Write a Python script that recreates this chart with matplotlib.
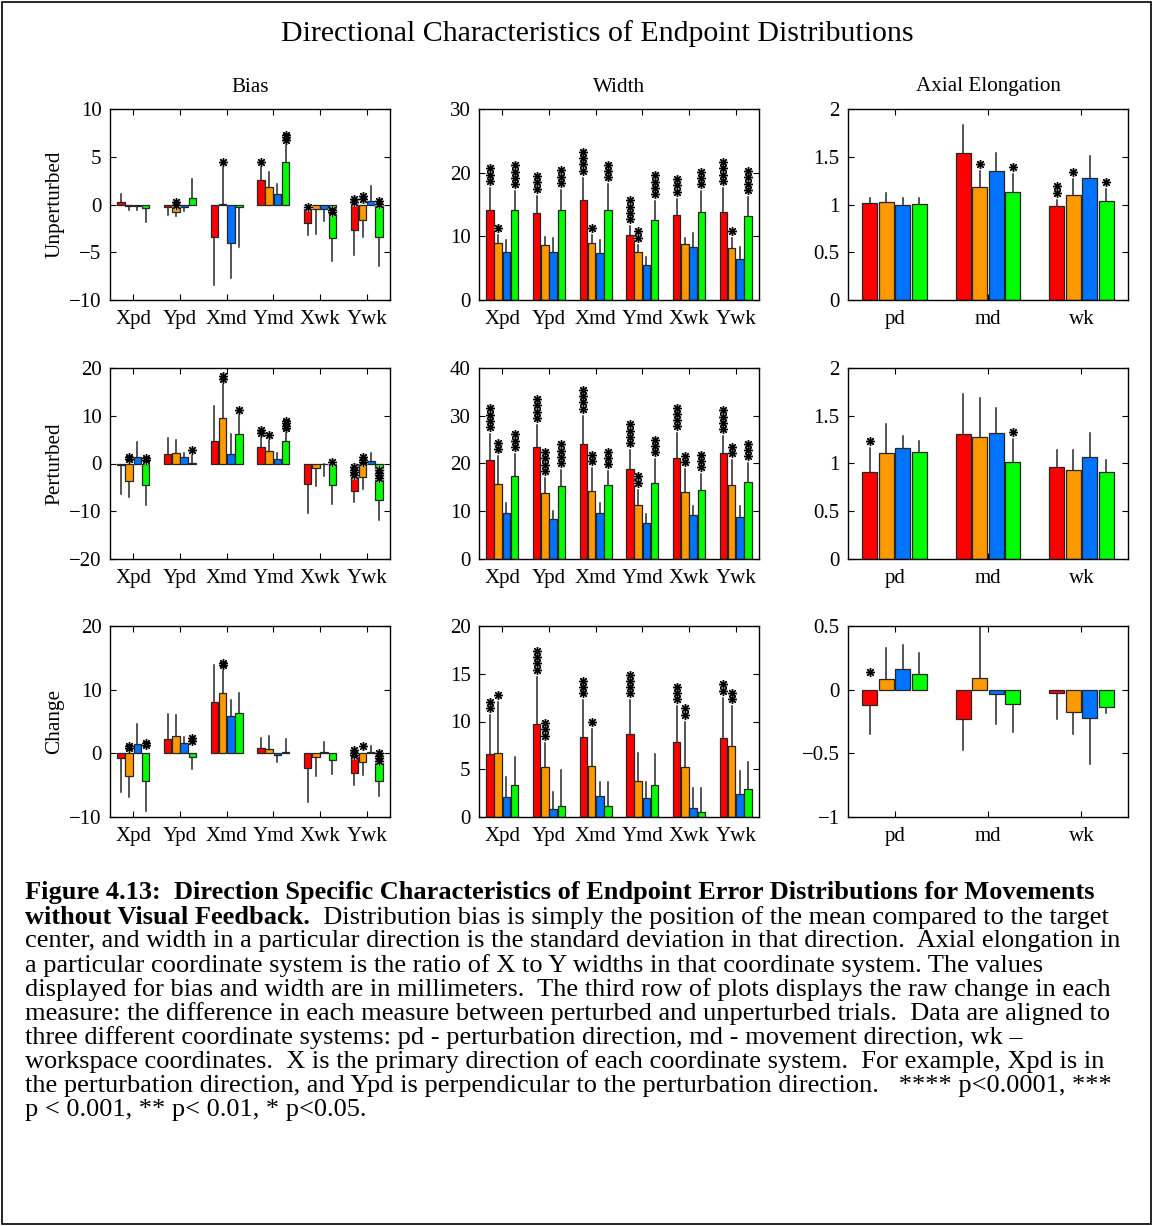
import numpy as np
import matplotlib.pyplot as plt
from matplotlib.patches import Rectangle
from matplotlib.ticker import FuncFormatter

plt.rcParams['font.family'] = ['Liberation Serif', 'DejaVu Serif']

colors = ['#ff0000', '#ff9900', '#0073ff', '#00ff00']
coords = ['Xpd', 'Ypd', 'Xmd', 'Ymd', 'Xwk', 'Ywk']
systems = ['pd', 'md', 'wk']

# each row is one group, columns are red / orange / blue / green
# err = end of the one-sided error line
bias_unp = [[0.25, -0.15, -0.15, -0.4], [-0.3, -0.8, -0.25, 0.7], [-3.4, 0.1, -4.0, -0.3],
            [2.6, 1.8, 1.1, 4.5], [-1.9, -0.5, -0.5, -3.5], [-2.7, -1.6, 0.4, -3.4]]
bias_unp_err = [[1.1, -0.6, -0.6, -1.8], [-1.1, -1.2, -0.7, 2.7], [-8.4, 4.5, -7.7, -4.5],
                [4.5, 3.4, 2.1, 6.7], [-3.2, -3.1, -1.7, -5.9], [-5.3, -3.4, 1.9, -6.4]]
bias_unp_n = [[0, 0, 0, 0], [0, 2, 0, 0], [0, 1, 0, 0], [1, 0, 0, 3], [1, 0, 0, 2], [2, 2, 0, 2]]
bias_unp_sy = [[0, 0, 0, 0], [0, 0.0, 0, 0], [0, 4.5, 0, 0], [4.5, 0, 0, 6.8], [-0.3, 0, 0, -0.8], [0.3, 0.6, 0, 0.1]]

bias_per = [[-0.4, -3.6, 1.4, -4.6], [2.0, 2.1, 1.3, 0.05], [4.8, 9.6, 2.0, 6.2],
            [3.5, 2.6, 0.9, 4.8], [-4.2, -1.0, -0.2, -4.6], [-5.7, -2.9, 0.6, -7.6]]
bias_per_err = [[-6.3, -7.0, 4.6, -8.6], [5.4, 4.9, 2.1, 2.8], [12.1, 18.0, 6.2, 11.2],
                [6.8, 6.0, 2.2, 8.5], [-10.4, -4.8, -2.7, -8.5], [-8.1, -5.3, 2.3, -11.9]]
bias_per_n = [[0, 2, 0, 2], [0, 0, 0, 1], [0, 2, 0, 1], [2, 1, 0, 4], [0, 0, 0, 1], [4, 3, 0, 4]]
bias_per_sy = [[0, 0.9, 0, 0.7], [0, 0, 0, 2.8], [0, 17.7, 0, 11.2], [6.4, 6.0, 0, 7.4], [0, 0, 0, 0.3], [-2.4, 0.3, 0, -3.0]]

bias_chg = [[-0.7, -3.5, 1.5, -4.3], [2.2, 2.8, 1.6, -0.6], [8.0, 9.5, 5.9, 6.4],
            [0.9, 0.7, -0.2, 0.25], [-2.3, -0.6, 0.15, -1.1], [-3.1, -1.4, 0.15, -4.4]]
bias_chg_err = [[-6.1, -6.9, 4.6, -9.1], [6.2, 6.0, 2.6, -2.5], [13.8, 14.1, 8.3, 9.5],
                [2.4, 2.8, -1.3, 2.2], [-7.7, -3.5, 1.8, -3.3], [-5.0, -3.4, 1.2, -6.7]]
bias_chg_n = [[0, 2, 0, 2], [0, 0, 0, 2], [0, 2, 0, 0], [0, 0, 0, 0], [0, 0, 0, 0], [3, 1, 0, 4]]
bias_chg_sy = [[0, 0.8, 0, 1.3], [0, 0, 0, 2.0], [0, 13.8, 0, 0], [0, 0, 0, 0], [0, 0, 0, 0], [-0.3, 1.2, 0, -1.2]]

width_unp = [[14.1, 8.9, 7.5, 14.1], [13.7, 8.6, 7.6, 14.1], [15.7, 8.9, 7.4, 14.2],
             [10.2, 7.5, 5.5, 12.6], [13.3, 8.8, 8.3, 13.9], [13.8, 8.1, 6.4, 13.2]]
width_unp_err = [[17.6, 10.2, 9.5, 17.1], [16.4, 9.9, 9.7, 17.3], [19.2, 10.2, 9.4, 18.2],
                 [11.6, 8.7, 6.8, 15.5], [15.9, 9.7, 10.5, 17.1], [17.6, 9.7, 8.3, 16.2]]
width_unp_n = [[3, 1, 0, 4], [3, 0, 0, 3], [4, 1, 0, 3], [4, 2, 0, 4], [3, 0, 0, 3], [4, 1, 0, 4]]

width_per = [[20.7, 15.7, 9.6, 17.4], [23.4, 13.9, 8.3, 15.3], [24.1, 14.2, 9.7, 15.5],
             [18.9, 11.3, 7.6, 16.0], [21.2, 14.1, 9.2, 14.4], [22.1, 15.6, 8.9, 16.2]]
width_per_err = [[26.1, 21.6, 11.7, 22.0], [28.1, 17.0, 10.0, 18.6], [30.0, 19.0, 11.7, 18.4],
                 [22.8, 14.5, 9.5, 20.9], [26.3, 18.8, 11.0, 17.7], [25.7, 20.7, 11.2, 20.0]]
width_per_n = [[4, 2, 0, 3], [4, 4, 0, 4], [4, 2, 0, 3], [4, 2, 0, 3], [4, 2, 0, 3], [4, 2, 0, 3]]

width_chg = [[6.6, 6.7, 2.1, 3.3], [9.7, 5.2, 0.8, 1.2], [8.4, 5.3, 2.2, 1.2],
             [8.7, 3.8, 2.0, 3.3], [7.9, 5.2, 0.9, 0.5], [8.3, 7.4, 2.4, 2.9]]
width_chg_err = [[10.7, 12.0, 4.2, 6.3], [14.7, 7.8, 2.6, 4.9], [12.2, 9.2, 3.7, 3.7],
                 [12.2, 6.7, 3.7, 6.6], [11.6, 10.0, 3.0, 3.0], [12.5, 11.6, 4.8, 5.8]]
width_chg_n = [[2, 1, 0, 0], [4, 3, 0, 0], [3, 1, 0, 0], [4, 0, 0, 0], [3, 2, 0, 0], [2, 2, 0, 0]]

axial_unp = [[1.02, 1.03, 1.0, 1.01], [1.54, 1.18, 1.35, 1.13], [0.98, 1.10, 1.28, 1.04]]
axial_unp_err = [[1.07, 1.12, 1.07, 1.07], [1.83, 1.35, 1.54, 1.32], [1.05, 1.27, 1.51, 1.16]]
axial_unp_n = [[0, 0, 0, 0], [0, 1, 0, 1], [2, 1, 0, 1]]

axial_per = [[0.91, 1.11, 1.16, 1.12], [1.31, 1.28, 1.32, 1.02], [0.96, 0.93, 1.07, 0.91]]
axial_per_err = [[1.16, 1.41, 1.29, 1.24], [1.73, 1.69, 1.58, 1.26], [1.14, 1.14, 1.32, 1.04]]
axial_per_n = [[1, 0, 0, 0], [0, 0, 0, 1], [0, 0, 0, 0]]

axial_chg = [[-0.12, 0.08, 0.16, 0.12], [-0.23, 0.09, -0.035, -0.115], [-0.024, -0.178, -0.225, -0.14]]
axial_chg_err = [[-0.35, 0.33, 0.35, 0.29], [-0.47, 0.55, -0.27, -0.335], [-0.233, -0.345, -0.58, -0.18]]
axial_chg_n = [[1, 0, 0, 0], [0, 0, 0, 0], [0, 0, 0, 0]]
axial_chg_sy = [[0.14, 0, 0, 0], [0, 0, 0, 0], [0, 0, 0, 0]]

W, H = 1153, 1226
fig = plt.figure(figsize=(W / 100, H / 100), dpi=100)
fig.patches.append(Rectangle((0.0015, 0.0015), 0.997, 0.997, transform=fig.transFigure,
                             fill=False, edgecolor='black', linewidth=1.2))

col_left = [110, 479, 848]
row_top = [109, 368, 626]
ax_w, ax_h = 280, 191
offsets = np.array([-0.265, -0.088, 0.088, 0.265])
bw = 0.16
tick_fmt = FuncFormatter(lambda v, p: ('%g' % v).replace('-', '\u2212'))


def draw_star(ax, x, y):
    ax.plot(x, y, marker=(8, 2, 0), ms=6.3, mew=1.7, color='0.75', clip_on=False, zorder=4)
    ax.plot(x, y, marker=(8, 2, 0), ms=6.3, mew=0.85, color='black', clip_on=False, zorder=5)


def panel(r, c, vals, errs, nstar, labels, ylim, yticks, star_y=None, step_px=6.3, gap_px=7.0):
    ax = fig.add_axes([col_left[c] / W, 1 - (row_top[r] + ax_h) / H, ax_w / W, ax_h / H])
    vals = np.array(vals)
    errs = np.array(errs)
    ng = len(labels)
    pos = np.arange(1, ng + 1)
    unit = (ylim[1] - ylim[0]) / ax_h
    for k in range(4):
        x = pos + offsets[k]
        ax.bar(x, vals[:, k], width=bw, color=colors[k], edgecolor='0.15', linewidth=0.9, zorder=2)
        for g in range(ng):
            ax.plot([x[g], x[g]], [vals[g, k], errs[g, k]], color='0.15', lw=1.1, zorder=1)
            n = nstar[g][k]
            if n:
                if star_y is not None:
                    y0 = star_y[g][k]
                else:
                    y0 = errs[g, k] + gap_px * unit
                for s in range(n):
                    draw_star(ax, x[g], y0 + s * step_px * unit)
    ax.set_xlim(0.5, ng + 0.5)
    ax.set_ylim(*ylim)
    ax.set_xticks(pos)
    ax.set_xticklabels(labels)
    ax.set_yticks(yticks)
    ax.yaxis.set_major_formatter(tick_fmt)
    ax.tick_params(direction='in', length=4, width=0.8, top=True, right=True, labelsize=15)
    ax.tick_params(axis='x', pad=7.5)
    ax.tick_params(axis='y', pad=6)
    for sp in ax.spines.values():
        sp.set_linewidth(1.0)
    return ax


panel(0, 0, bias_unp, bias_unp_err, bias_unp_n, coords, (-10, 10), [-10, -5, 0, 5, 10],
      star_y=bias_unp_sy, step_px=2.5)
panel(0, 1, width_unp, width_unp_err, width_unp_n, coords, (0, 30), [0, 10, 20, 30])
panel(0, 2, axial_unp, axial_unp_err, axial_unp_n, systems, (0, 2), [0, 0.5, 1, 1.5, 2])

panel(1, 0, bias_per, bias_per_err, bias_per_n, coords, (-20, 20), [-20, -10, 0, 10, 20],
      star_y=bias_per_sy, step_px=2.5)
panel(1, 1, width_per, width_per_err, width_per_n, coords, (0, 40), [0, 10, 20, 30, 40])
panel(1, 2, axial_per, axial_per_err, axial_per_n, systems, (0, 2), [0, 0.5, 1, 1.5, 2])

panel(2, 0, bias_chg, bias_chg_err, bias_chg_n, coords, (-10, 20), [-10, 0, 10, 20],
      star_y=bias_chg_sy, step_px=2.5)
panel(2, 1, width_chg, width_chg_err, width_chg_n, coords, (0, 20), [0, 5, 10, 15, 20])
panel(2, 2, axial_chg, axial_chg_err, axial_chg_n, systems, (-1, 0.5), [-1, -0.5, 0, 0.5],
      star_y=axial_chg_sy)

fig.text(597 / W, 1 - 34 / H, 'Directional Characteristics of Endpoint Distributions',
         ha='center', va='center', fontsize=21.5)
for c, t in enumerate(['Bias', 'Width', 'Axial Elongation']):
    fig.text((col_left[c] + ax_w / 2) / W, 1 - 87 / H, t, ha='center', va='center', fontsize=15.2)
for r, t in enumerate(['Unperturbed', 'Perturbed', 'Change']):
    fig.text(55 / W, 1 - (row_top[r] + ax_h / 2) / H, t, ha='center', va='center',
             rotation=90, fontsize=15.3)

# caption
cap_size = 19.0
x0 = 25 / W
line_y = [893 + 24.1 * i for i in range(10)]
fig.text(x0, 1 - line_y[0] / H,
         'Figure 4.13:  Direction Specific Characteristics of Endpoint Error Distributions for Movements',
         fontsize=cap_size, fontweight='bold', va='center')
b = fig.text(x0, 1 - line_y[1] / H, 'without Visual Feedback.', fontsize=cap_size,
             fontweight='bold', va='center')
fig.canvas.draw()
bb = b.get_window_extent(renderer=fig.canvas.get_renderer())
fig.text(bb.x1 / W, 1 - line_y[1] / H,
         '  Distribution bias is simply the position of the mean compared to the target',
         fontsize=cap_size, va='center')
caption_lines = [
    'center, and width in a particular direction is the standard deviation in that direction.  Axial elongation in',
    'a particular coordinate system is the ratio of X to Y widths in that coordinate system. The values',
    'displayed for bias and width are in millimeters.  The third row of plots displays the raw change in each',
    'measure: the difference in each measure between perturbed and unperturbed trials.  Data are aligned to',
    'three different coordinate systems: pd - perturbation direction, md - movement direction, wk \u2013',
    'workspace coordinates.  X is the primary direction of each coordinate system.  For example, Xpd is in',
    'the perturbation direction, and Ypd is perpendicular to the perturbation direction.   **** p<0.0001, ***',
    'p < 0.001, ** p< 0.01, * p<0.05.',
]
for i, t in enumerate(caption_lines):
    fig.text(x0, 1 - line_y[i + 2] / H, t, fontsize=cap_size, va='center')

fig.savefig('out.png', dpi=100)
